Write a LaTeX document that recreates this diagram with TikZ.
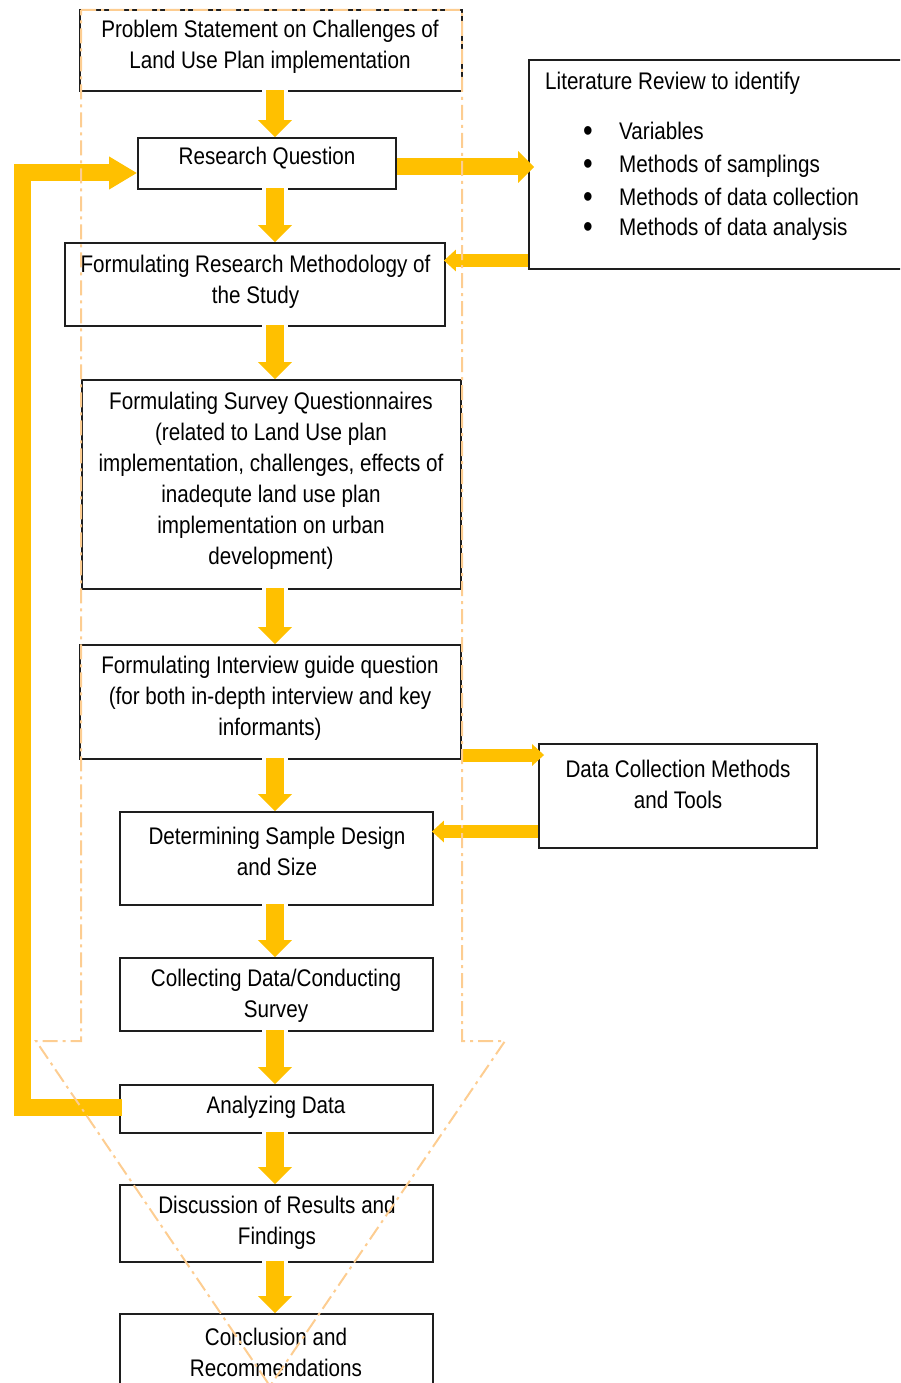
\documentclass[tikz,border=0pt]{standalone}
\usepackage{fontspec}
\setmainfont{Liberation Sans}[FakeStretch=0.86]
\usetikzlibrary{arrows.meta,calc}
\definecolor{ygold}{RGB}{255,192,0}
\definecolor{funnel}{RGB}{253,205,145}
\definecolor{edge}{RGB}{30,30,30}
\newcommand{\bigbul}{\makebox[36pt][l]{\raisebox{-2.5pt}{\fontsize{32}{31}\selectfont\textbullet}}}
\begin{document}
\begin{tikzpicture}[x=1pt,y=-1pt,
  box/.style={draw=edge,line width=1.8pt,inner sep=0pt},
  txt/.style={align=center,inner sep=0pt,font=\fontsize{24}{31}\selectfont},
  ltxt/.style={anchor=west,inner sep=0pt,font=\fontsize{24}{31}\selectfont},
  down/.style={draw=ygold,line width=18pt,-{Triangle[width=33pt,length=17pt]},
    preaction={draw=white,line width=26pt,-,shorten >=22pt}},
  bigh/.style={draw=ygold,line width=17pt,-{Triangle[width=31pt,length=16pt]}},
  smallh/.style={draw=ygold,line width=13pt,-{Triangle[width=21pt,length=12pt]}},
  fb/.style={draw=ygold,line width=17pt,line join=miter,-{Triangle[width=31pt,length=28pt]}},
  funnelline/.style={draw=funnel,line width=2pt,dash pattern=on 15pt off 5pt on 3pt off 5pt}]
\useasboundingbox (0,0) rectangle (900,1383);
\clip (0,0) rectangle (900,1383);
\coordinate (ax) at (275,0);
% boxes
\node[box,minimum width=382pt,minimum height=81pt] (b1) at (271,50.5) {};
\node[box,minimum width=258pt,minimum height=51pt] (b2) at (267,163.5) {};
\node[box,minimum width=380pt,minimum height=83pt] (b3) at (255,284.5) {};
\node[box,minimum width=379pt,minimum height=209pt] (b4) at (271.5,484.5) {};
\node[box,minimum width=381pt,minimum height=114pt] (b5) at (270.5,702) {};
\node[box,minimum width=313pt,minimum height=93pt] (b6) at (276.5,858.5) {};
\node[box,minimum width=313pt,minimum height=73pt] (b7) at (276.5,994.5) {};
\node[box,minimum width=313pt,minimum height=48pt] (b8) at (276.5,1109) {};
\node[box,minimum width=313pt,minimum height=77pt] (b9) at (276.5,1223.5) {};
\node[box,minimum width=313pt,minimum height=90pt] (b10) at (276.5,1359) {};
\node[box,minimum width=390pt,minimum height=209pt] (lr) at (724,164.5) {};
\node[box,minimum width=278pt,minimum height=104pt] (dc) at (678,796) {};
% texts
\node[txt] (t1) at (270,46.5) {Problem Statement on Challenges of\\Land Use Plan implementation};
\node[txt] (t2) at (267,158) {Research Question};
\node[txt] (t3) at (255.5,282) {Formulating Research Methodology of\\the Study};
\node[txt] (t4) at (271,480.5) {Formulating Survey Questionnaires\\(related to Land Use plan\\implementation, challenges, effects of\\inadequte land use plan\\implementation on urban\\development)};
\node[txt] (t5) at (270,698.5) {Formulating Interview guide question\\(for both in-depth interview and key\\informants)};
\node[txt] (t6) at (277,851.5) {Determining Sample Design\\and Size};
\node[txt] (t7) at (276,996) {Collecting Data/Conducting\\Survey};
\node[txt] (t8) at (276,1107) {Analyzing Data};
\node[txt] (t9) at (277,1223) {Discussion of Results and\\Findings};
\node[txt] (t10) at (276,1352) {Conclusion and\\Recommendations};
\node[txt] (tdc) at (678,784) {Data Collection Methods\\and Tools};
\node[ltxt] (lt0) at (545,83) {Literature Review to identify};
\node[ltxt] (lt1) at (583,132) {\bigbul Variables};
\node[ltxt] (lt2) at (583,166) {\bigbul Methods of samplings};
\node[ltxt] (lt3) at (583,198) {\bigbul Methods of data collection};
\node[ltxt] (lt4) at (583,229) {\bigbul Methods of data analysis};
% vertical arrows
\draw[down] ([yshift=1.5pt]b1.south -| ax) -- (b2.north -| ax);
\draw[down] ([yshift=1.5pt]b2.south -| ax) -- (b3.north -| ax);
\draw[down] ([yshift=1.5pt]b3.south -| ax) -- (b4.north -| ax);
\draw[down] ([yshift=1.5pt]b4.south -| ax) -- (b5.north -| ax);
\draw[down] ([yshift=1.5pt]b5.south -| ax) -- (b6.north -| ax);
\draw[down] ([yshift=1.5pt]b6.south -| ax) -- (b7.north -| ax);
\draw[down] ([yshift=1.5pt]b7.south -| ax) -- (b8.north -| ax);
\draw[down] ([yshift=1.5pt]b8.south -| ax) -- (b9.north -| ax);
\draw[down] ([yshift=1.5pt]b9.south -| ax) -- (b10.north -| ax);
% side arrows
\coordinate (y1) at (0,167);
\coordinate (y2) at (0,260.5);
\coordinate (y3) at (0,755);
\coordinate (y4) at (0,831.5);
\draw[bigh] (b2.east |- y1) -- ([xshift=6pt]lr.west |- y1);
\draw[smallh] (lr.west |- y2) -- ([xshift=-2pt]b3.east |- y2);
\draw[smallh] ([xshift=-1pt]b5.east |- y3) -- ([xshift=6pt]dc.west |- y3);
\draw[smallh] (dc.west |- y4) -- ([xshift=-2pt]b6.east |- y4);
% feedback arrow
\coordinate (fbc) at (22,173);
\draw[fb] ([xshift=3pt,yshift=2pt]b8.west) -| (fbc) -- ([yshift=-9.5pt]b2.west);
% funnel outline
\draw[funnelline] (81,10) -- (462,10) -- (462,1041) -- (505,1041) -- (270,1386) -- (36,1041) -- (81,1041) -- cycle;
\end{tikzpicture}
\end{document}
